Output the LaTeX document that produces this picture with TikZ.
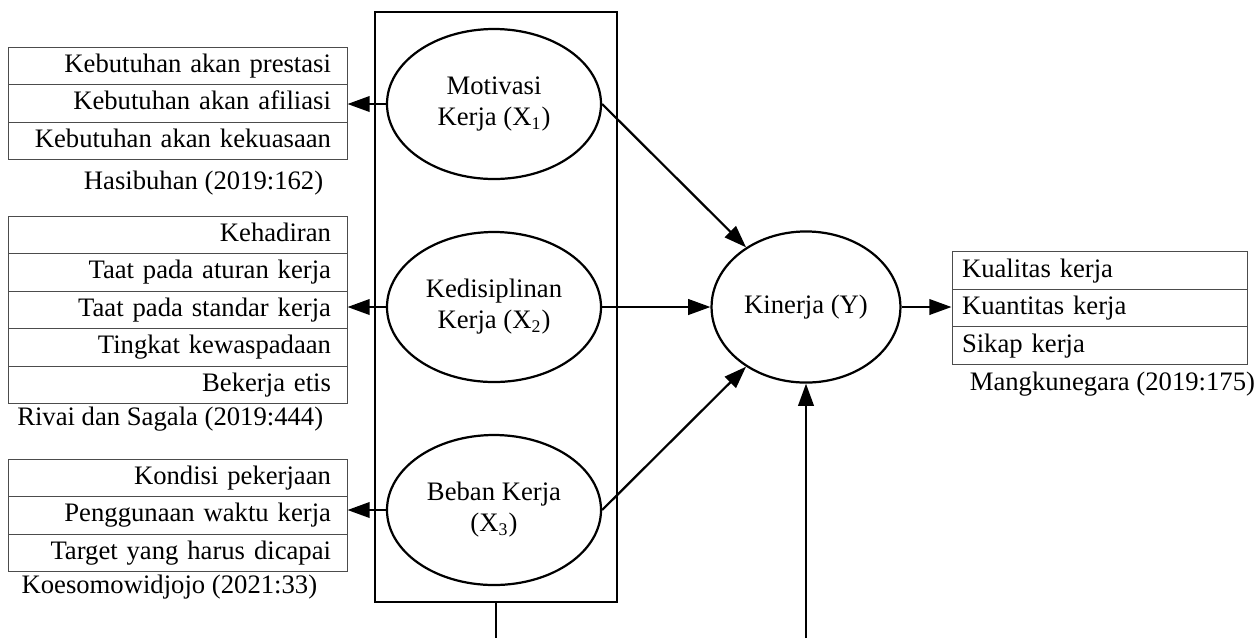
\documentclass[tikz,border=0pt]{standalone}
\usepackage{fontspec}
\setmainfont{Liberation Serif}
\usetikzlibrary{arrows.meta,shapes.geometric}
\tikzset{
  var/.style={ellipse,draw,line width=1pt,minimum width=96.3pt,minimum height=67.5pt,align=center,inner sep=0pt},
  indrow/.style={rectangle,draw=black!70,line width=0.45pt,minimum height=16.875pt,inner ysep=0pt,inner xsep=7.2pt,text width=137.7pt,align=right,text height=8.6pt,text depth=2.6pt},
  outrow/.style={rectangle,draw=black!70,line width=0.45pt,minimum height=16.875pt,inner ysep=0pt,inner xsep=4.5pt,text width=123.75pt,align=left,text height=8.6pt,text depth=2.6pt},
  link/.style={-{Triangle[length=10pt,width=7pt]},line width=1pt},
}
\begin{document}
\begin{tikzpicture}[x=0.45pt,y=-0.45pt,font=\fontsize{12}{14}\selectfont]
\useasboundingbox (0,0) rectangle (1260,638);
% Frame round the three variables
\node[draw,line width=1pt,minimum width=108.9pt,minimum height=265.5pt] (frame) at (496,307) {};
\node[var] (m1) at (494,104) {Motivasi\\Kerja (X\textsubscript{1})};
\node[var] (m2) at (494,307) {Kedisiplinan\\Kerja (X\textsubscript{2})};
\node[var] (m3) at (494,510) {Beban Kerja\\(X\textsubscript{3})};
\node[var,minimum width=85pt,minimum height=68pt] (kin) at (806,307) {Kinerja (Y)};
% Indicators of X1
\foreach \t [count=\i] in {Kebutuhan akan prestasi,Kebutuhan akan afiliasi,Kebutuhan akan kekuasaan}
  \node[indrow] (a\i) at (178,28.25+37.5*\i) {\t};
\node[anchor=east] (srca) at (331,183) {Hasibuhan (2019:162)};
% Indicators of X2
\foreach \t [count=\i] in {Kehadiran,Taat pada aturan kerja,Taat pada standar kerja,Tingkat kewaspadaan,Bekerja etis}
  \node[indrow] (b\i) at (178,197.25+37.5*\i) {\t};
\node[anchor=east] (srcb) at (331,419) {Rivai dan Sagala (2019:444)};
% Indicators of X3
\foreach \t [count=\i] in {Kondisi pekerjaan,Penggunaan waktu kerja,Target yang harus dicapai}
  \node[indrow] (c\i) at (178,440.25+37.5*\i) {\t};
\node[anchor=east] (srcc) at (325,587) {Koesomowidjojo (2021:33)};
% Indicators of Y
\foreach \t [count=\i] in {Kualitas kerja,Kuantitas kerja,Sikap kerja}
  \node[outrow] (d\i) at (1099.5,233+37.5*\i) {\t};
\node[anchor=west] (srcd) at (962,384) {Mangkunegara (2019:175)};
% Arrows
\draw[link] (m1.west) -- (m1.west -| a2.east);
\draw[link] (m2.west) -- (m2.west -| b3.east);
\draw[link] (m3.west) -- (m3.west -| c2.east);
\draw[link] (m1.east) -- (kin);
\draw[link] (m2.east) -- (kin.west);
\draw[link] (m3.east) -- (kin);
\draw[link] (kin.east) -- (kin.east -| d2.west);
\coordinate (foot1) at (496,638);
\coordinate (foot2) at (806,638);
\draw[line width=1pt] (frame.south) -- (foot1);
\draw[link] (foot2) -- (kin.south);
\end{tikzpicture}
\end{document}
